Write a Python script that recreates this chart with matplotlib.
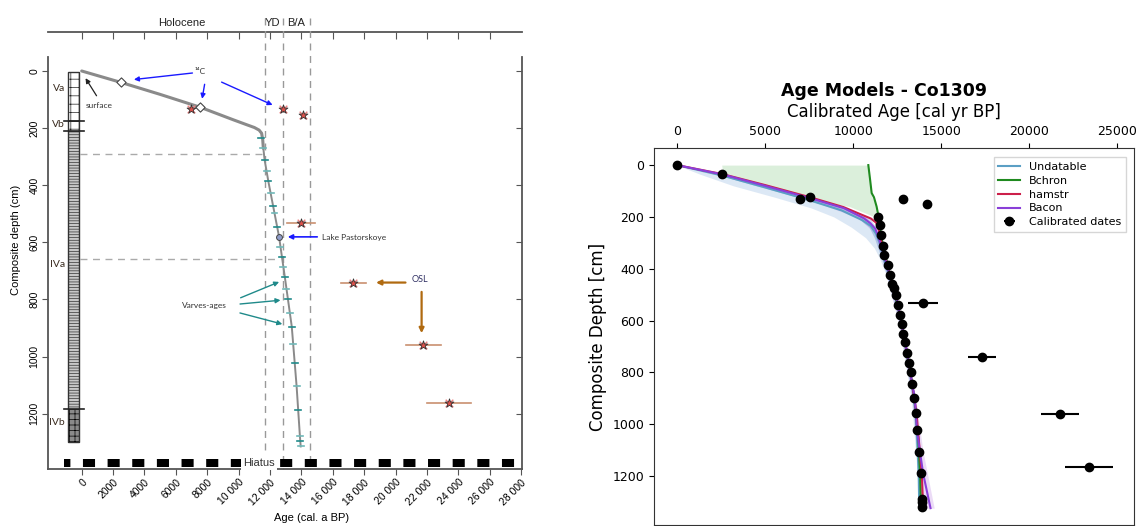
import matplotlib
matplotlib.use('Agg')
import matplotlib.pyplot as plt
from matplotlib.patches import Rectangle

W, H = 1139, 526
plt.rcParams['font.family'] = ['Liberation Sans', 'DejaVu Sans']
plt.rcParams['hatch.linewidth'] = 0.5

# ------------------ left panel data (age cal. a BP, depth cm) ------------------
upper_age = [0, 2500, 5000, 7550, 9660, 10500, 11000, 11300, 11460, 11530, 11570]
upper_depth = [0, 40, 82, 127, 171, 188, 198, 207, 218, 240, 271]
lower_age = [11570, 11650, 11890, 12200, 12570, 12950, 13380, 13690, 13900, 13950]
lower_depth = [271, 311, 387, 475, 580, 726, 895, 1105, 1280, 1315]

varve_age = [11450, 11530, 11650, 11780, 11890, 12030, 12190, 12280, 12450, 12660, 12750,
             12850, 12940, 13040, 13130, 13260, 13380, 13480, 13570, 13690, 13800, 13900,
             13920, 13940]
varve_depth = [235, 271, 311, 352, 387, 426, 472, 497, 545, 615, 650, 685, 723, 763, 798,
               846, 895, 956, 1021, 1105, 1189, 1280, 1297, 1315]

c14_age = [2510, 7530]
c14_depth = [40, 127]
lake_age = [12570]
lake_depth = [582]

star_age = [6960, 12800, 14110, 13970, 17300, 21760, 23410]
star_depth = [133, 133, 154, 531, 741, 959, 1163]
star_err = [0, 0, 0, 900, 800, 1115, 1395]

unit_names = ['Va', 'Vb', 'IVa', 'IVb']
unit_label_depth = [60, 186, 678, 1232]
unit_top = [2, 175, 210, 1185]
unit_bottom = [175, 210, 1185, 1300]
unit_boundaries = [175, 210, 1185]

period_names = ['Holocene', 'YD', 'B/A']
period_label_age = [6390, 12140, 13650]
period_bounds = [11650, 12840, 14560]

bottom_ticks = list(range(0, 28001, 2000))
bottom_labels = ['0', '2000', '4000', '6000', '8000'] + \
    ['%d 000' % (v // 1000) for v in range(10000, 28001, 2000)]
depth_ticks = [0, 200, 400, 600, 800, 1000, 1200]

# ------------------ right panel data ------------------
date_age = [0, 2570, 7000, 7550, 12840, 14170, 13970, 17290, 21740, 23370,
            11390, 11500, 11580, 11670, 11760, 11990, 12090, 12220, 12310, 12420,
            12560, 12660, 12750, 12840, 12940, 13040, 13170, 13260, 13350, 13470,
            13560, 13640, 13750, 13850, 13890, 13890, 13890]
date_depth = [0, 35, 129, 125, 131, 150, 532, 741, 961, 1165,
              201, 231, 270, 312, 347, 386, 425, 457, 476, 500,
              538, 578, 613, 650, 684, 724, 763, 799, 845, 897,
              958, 1023, 1106, 1190, 1287, 1302, 1320]
date_err = [0, 0, 250, 0, 0, 0, 870, 800, 1065, 1355] + [0] * 27

undat_age = [0, 2550, 5000, 7450, 9350, 10500, 11000, 11300, 11500, 11650, 11850, 12150,
             12450, 12750, 13050, 13350, 13550, 13650, 13720, 13750]
undat_depth = [0, 40, 86, 134, 175, 212, 235, 265, 300, 340, 385, 450, 520, 610, 720, 845,
               960, 1080, 1200, 1317]
bchron_age = [10860, 10950, 11050, 11180, 11330, 11460, 11580, 11700, 12090, 12660, 13040,
              13470, 13700, 13800, 13850]
bchron_depth = [0, 50, 108, 124, 160, 205, 270, 310, 425, 578, 724, 897, 1060, 1200, 1310]
hamstr_age = [0, 2600, 5000, 7550, 9450, 10500, 11000, 11300, 11450, 11600, 11800, 12100,
              12450, 12750, 13050, 13350, 13600, 13750, 13900, 13970]
hamstr_depth = [0, 35, 77, 124, 162, 192, 206, 222, 250, 295, 350, 425, 510, 610, 720, 845,
                960, 1080, 1200, 1317]
bacon_age = [0, 2650, 5000, 7570, 9460, 10600, 10970, 11250, 11400, 11580, 11800, 12100,
             12450, 12750, 13050, 13350, 13500, 13620, 13800, 13970, 14390]
bacon_depth = [0, 37, 80, 128, 166, 205, 224, 245, 270, 310, 360, 430, 510, 610, 720, 845,
               900, 1023, 1110, 1190, 1324]

band_depth = [0, 35, 80, 125, 165, 200, 240, 280, 320, 360, 420, 600, 900, 1200, 1320]
undat_lo95 = [0, 1300, 3200, 5600, 7600, 8900, 9900, 10700, 11200, 11500, 11850, 12550,
              13300, 13650, 13750]
undat_hi95 = [0, 2700, 5100, 7700, 9700, 10900, 11300, 11450, 11600, 11800, 12100, 12750,
              13500, 13850, 13950]
undat_lo68 = [0, 2200, 4500, 6900, 8900, 10200, 10900, 11200, 11400, 11600, 11900, 12600,
              13350, 13700, 13800]
undat_hi68 = [0, 2650, 5000, 7500, 9500, 10700, 11200, 11400, 11550, 11750, 12050, 12700,
              13450, 13800, 13900]

bchron_band_depth = [0, 35, 80, 125, 160, 205]
bchron_lo = [2540, 2600, 4800, 7000, 9800, 11400]
bchron_hi = [10860, 10920, 11000, 11080, 11330, 11460]

bacon_band_depth = [0, 37, 128, 205, 260, 400, 600, 900, 1100, 1324]
bacon_lo = [0, 2500, 7300, 10300, 11200, 11800, 12550, 13350, 13650, 13850]
bacon_hi = [0, 2800, 7900, 10900, 11500, 12000, 12750, 13550, 13950, 14600]

fig = plt.figure(figsize=(W / 100, H / 100), dpi=100)

# =============================== left panel ===============================
ax = fig.add_axes([48 / W, 57 / H, 474 / W, 412 / H])
ax.set_xlim(-2146, 28045)
ax.set_ylim(1394, -49)
for s in ['left', 'right', 'bottom']:
    ax.spines[s].set_color('#555555')
    ax.spines[s].set_linewidth(1.3)
ax.spines['top'].set_visible(False)
ax.set_xticks(bottom_ticks)
ax.set_xticklabels(bottom_labels, rotation=45, ha='right', rotation_mode='anchor')
ax.set_yticks(depth_ticks)
ax.tick_params(axis='x', labelsize=7.5, length=4, color='#555555', pad=2)
ax.tick_params(axis='y', labelsize=7.5, length=4, color='#555555', labelrotation=90, pad=2)
for t in ax.get_yticklabels():
    t.set_va('center')

secx = ax.secondary_xaxis((469 - 32) / 412)
secx.set_xticks(bottom_ticks[:-1])
secx.tick_params(direction='in', labeltop=False, length=5, color='#555555')
secx.spines['top'].set_color('#555555')
secx.spines['top'].set_linewidth(1.3)
secy = ax.secondary_yaxis('right')
secy.set_yticks(depth_ticks)
secy.tick_params(direction='in', labelright=False, length=4, color='#555555')
secy.spines['right'].set_visible(False)

# period boundaries and labels
for b in period_bounds:
    ax.plot([b, b], [-185, 1394], color='#999999', lw=1, ls=(0, (5, 4)), clip_on=False, zorder=1)
for name, a in zip(period_names, period_label_age):
    ax.text(a, -168, name, ha='center', va='center', fontsize=8, color='#222222')
ax.plot([-110, 11600], [290, 290], color='#aaaaaa', lw=1, ls=(0, (5, 4)), zorder=1)
ax.plot([-110, 12450], [658, 658], color='#aaaaaa', lw=1, ls=(0, (5, 4)), zorder=1)

# lithology column
styles = [('white', '++', '#222222'), ('white', '++', '#222222'),
          ('#c8c8c8', '------', '#333333'), ('#8a8a8a', '+++', 'black')]
for top, bot, (fc, hatch, ec) in zip(unit_top, unit_bottom, styles):
    ax.add_patch(Rectangle((-873, top), 700, bot - top, facecolor=fc, hatch=hatch,
                           edgecolor=ec, lw=0.5, zorder=3))
ax.add_patch(Rectangle((-873, unit_top[0]), 700, unit_bottom[-1] - unit_top[0],
                       fill=False, edgecolor='#333333', lw=1, zorder=4))
for b in unit_boundaries:
    ax.plot([-1150, 120], [b, b], color='#222222', lw=1.2, zorder=5)
for name, d in zip(unit_names, unit_label_depth):
    ax.text(-1050, d, name, ha='right', va='center', fontsize=7.5,
            family=['Lato', 'DejaVu Sans'], color='#3a2c20')

# age-depth curve
ax.plot(upper_age, upper_depth, color='#8a8a8a', lw=2.2, solid_capstyle='round', zorder=4)
ax.plot(lower_age, lower_depth, color='#8a8a8a', lw=1.4, zorder=4)
for i, (a, d) in enumerate(zip(varve_age, varve_depth)):
    col = '#1f8a8a' if i % 2 == 0 else '#6fb8b8'
    ax.plot([a - 190, a + 190], [d, d], color=col, lw=1.2, zorder=5)

ax.scatter(c14_age, c14_depth, marker='D', s=22, facecolor='white', edgecolor='#444444',
           lw=0.8, zorder=7)
ax.scatter(lake_age, lake_depth, marker='o', s=18, facecolor='#8f9cc8', edgecolor='#444444',
           lw=0.7, zorder=7)
for a, d, e in zip(star_age, star_depth, star_err):
    if e:
        ax.plot([a - e, a + e], [d, d], color='#c99070', lw=1.2, zorder=5)
ax.scatter(star_age, star_depth, marker='x', s=30, color='#f08080', lw=1, zorder=6)
ax.scatter(star_age, star_depth, marker='*', s=45, facecolor='#e0504a', edgecolor='#333333',
           lw=0.6, zorder=7)

# hiatus
ax.plot([-1100, 28045], [1372, 1372], color='black', lw=5.76,
        ls=(0.713, (1.512, 1.569)), zorder=3)
ax.text(11300, 1372, 'Hiatus', ha='center', va='center', fontsize=8, color='#333333',
        bbox=dict(facecolor='white', edgecolor='none', pad=1.5), zorder=4)

# annotations
afont = ['Lato', 'DejaVu Sans']
ax.text(1120, 120, 'surface', ha='center', va='center', fontsize=6, family=afont, color='#333333')
ax.annotate('', xy=(150, 17), xytext=(1040, 95),
            arrowprops=dict(arrowstyle='-|>', color='#222222', lw=0.9, mutation_scale=7))
ax.text(7550, 2, '¹⁴C', ha='center', va='center', fontsize=6, family=afont, color='#333333')
for st, en in [((7230, 6), (3150, 31)), ((7860, 37), (7640, 107)), ((8750, 35), (12320, 123))]:
    ax.annotate('', xy=en, xytext=st,
                arrowprops=dict(arrowstyle='-|>', color='#1a1aff', lw=1, mutation_scale=7))
ax.text(15310, 582, 'Lake Pastorskoye', ha='left', va='center', fontsize=6, family=afont,
        color='#333333')
ax.annotate('', xy=(12950, 581), xytext=(15180, 581),
            arrowprops=dict(arrowstyle='-|>', color='#1a1aff', lw=1.2, mutation_scale=7))
ax.text(7800, 821, 'Varves-ages', ha='center', va='center', fontsize=6, family=afont,
        color='#333333')
for st, en in [((9960, 798), (12740, 735)), ((9910, 817), (12840, 802)), ((9910, 845), (12950, 889))]:
    ax.annotate('', xy=en, xytext=st,
                arrowprops=dict(arrowstyle='-|>', color='#1f8a8a', lw=1, mutation_scale=7))
ax.text(21550, 729, 'OSL', ha='center', va='center', fontsize=6.5, family=afont, color='#333366')
for st, en in [((20800, 741), (18570, 741)), ((21650, 764), (21650, 928))]:
    ax.annotate('', xy=en, xytext=st,
                arrowprops=dict(arrowstyle='-|>', color='#b06a10', lw=1.6, mutation_scale=7))

fig.text(312 / W, 1 - 518 / H, 'Age (cal. a BP)', ha='center', va='center', fontsize=8)
fig.text(16 / W, 1 - 240 / H, 'Composite depth (cm)', ha='center', va='center', fontsize=8,
         rotation=90)

# =============================== right panel ===============================
ax2 = fig.add_axes([654 / W, 1 / H, 480 / W, 377 / H])
ax2.set_xlim(-1305, 25940)
ax2.set_ylim(1389, -66)
ax2.fill_betweenx(band_depth, undat_lo95, undat_hi95, color='#a9c6e6', alpha=0.4, lw=0)
ax2.fill_betweenx(band_depth, undat_lo68, undat_hi68, color='#5a86c8', alpha=0.35, lw=0)
ax2.fill_betweenx(bchron_band_depth, bchron_lo, bchron_hi, color='#bfe3bf', alpha=0.55, lw=0)
ax2.fill_betweenx(bacon_band_depth, bacon_lo, bacon_hi, color='#c89ae8', alpha=0.35, lw=0)
ax2.plot(undat_age, undat_depth, color='#5b9fc4', lw=1.5, label='Undatable')
ax2.plot(bchron_age, bchron_depth, color='#1f8a1f', lw=1.5, label='Bchron')
ax2.plot(hamstr_age, hamstr_depth, color='#cc1f4a', lw=1.5, label='hamstr')
ax2.plot(bacon_age, bacon_depth, color='#8a3fd8', lw=1.5, label='Bacon')
ax2.errorbar(date_age, date_depth, xerr=date_err, fmt='o', color='black', ms=6, lw=1.5,
             label='Calibrated dates', zorder=5)
ax2.xaxis.tick_top()
ax2.xaxis.set_label_position('top')
ax2.set_xticks([0, 5000, 10000, 15000, 20000, 25000])
ax2.set_yticks(depth_ticks)
ax2.tick_params(labelsize=9, length=3.5)
for lab in ax2.get_xticklabels() + ax2.get_yticklabels():
    lab.set_family('DejaVu Sans')
ax2.set_xlabel('Calibrated Age [cal yr BP]', fontsize=12, family='DejaVu Sans', labelpad=6)
ax2.set_ylabel('Composite Depth [cm]', fontsize=12, family='DejaVu Sans', labelpad=4)
for s in ax2.spines.values():
    s.set_color('#333333')
ax2.legend(loc='upper right', prop={'family': 'DejaVu Sans', 'size': 8},
           handlelength=2, borderpad=0.4, labelspacing=0.35, fancybox=False,
           edgecolor='#cccccc', bbox_to_anchor=(0.995, 0.99))
fig.text(884 / W, 1 - 90.7 / H, 'Age Models - Co1309', ha='center', va='center',
         fontsize=12.5, weight='bold', family='DejaVu Sans')

fig.savefig('out.png', dpi=100)
